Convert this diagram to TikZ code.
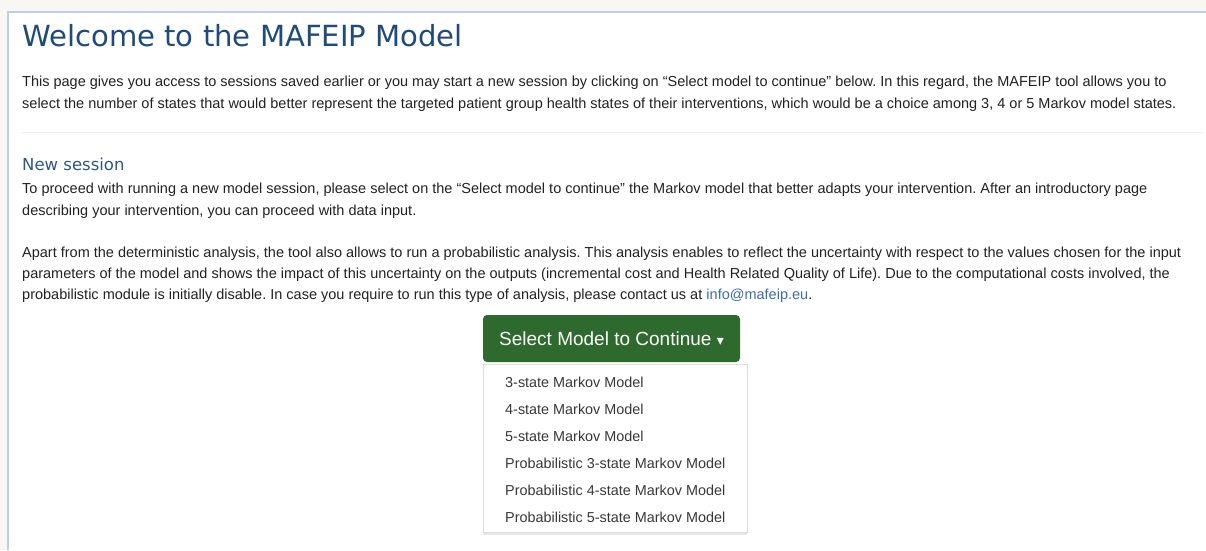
\documentclass[tikz,border=0pt]{standalone}
\usepackage{fontspec}
\setmainfont{Liberation Sans}
\newfontfamily\headfont{DejaVu Sans}
\usetikzlibrary{shadows}
\definecolor{pagebg}{HTML}{F8F7F3}
\definecolor{panelline}{HTML}{BCD0E2}
\definecolor{ruleline}{HTML}{ECECEC}
\definecolor{titleblue}{HTML}{1F4B7C}
\definecolor{headblue}{HTML}{2D5886}
\definecolor{linkblue}{HTML}{3C6CB0}
\definecolor{bodytext}{HTML}{222222}
\definecolor{btngreen}{HTML}{2E6A2E}
\definecolor{menutext}{HTML}{383838}
\definecolor{menuframe}{HTML}{DDDDDD}

\tikzset{
	bodyline/.style={anchor=base west, inner sep=0pt, text=bodytext, font=\fontsize{14.5}{17}\selectfont},
	menuitem/.style={anchor=base west, inner sep=0pt, text=menutext, font=\fontsize{14.4}{17}\selectfont},
}
\frenchspacing

\begin{document}
\begin{tikzpicture}[x=1pt, y=-1pt]
	\useasboundingbox (0,0) rectangle (1206,550);
	\fill[pagebg] (0,0) rectangle (1206,550);
	\fill[white] (8,12) rectangle (1206,550);
	\draw[panelline, line width=1.5pt] (8,550) -- (8,12) -- (1206,12);

	\node[anchor=base west, inner sep=0pt, text=titleblue, font=\headfont\fontsize{29.1}{34}\selectfont] (title) at (22,46) {Welcome to the MAFEIP Model};

	\node[bodyline] (intro1) at (22,86) {This page gives you access to sessions saved earlier or you may start a new session by clicking on “Select model to continue” below. In this regard, the MAFEIP tool allows you to};
	\node[bodyline] (intro2) at (22,108) {select the number of states that would better represent the targeted patient group health states of their interventions, which would be a choice among 3, 4 or 5 Markov model states.};

	\draw[ruleline, line width=1pt] (22,132) -- (1203,132);

	\node[anchor=base west, inner sep=0pt, text=headblue, font=\headfont\fontsize{16.5}{20}\selectfont] (newsession) at (22,170) {New session};

	\node[bodyline] (proceed1) at (22,193) {To proceed with running a new model session, please select on the “Select model to continue” the Markov model that better adapts your intervention. After an introductory page};
	\node[bodyline] (proceed2) at (22,215) {describing your intervention, you can proceed with data input.};

	\node[bodyline] (apart1) at (22,257) {Apart from the deterministic analysis, the tool also allows to run a probabilistic analysis. This analysis enables to reflect the uncertainty with respect to the values chosen for the input};
	\node[bodyline] (apart2) at (22,278) {parameters of the model and shows the impact of this uncertainty on the outputs (incremental cost and Health Related Quality of Life). Due to the computational costs involved, the};
	\node[bodyline] (apart3) at (22,299) {probabilistic module is initially disable. In case you require to run this type of analysis, please contact us at \textcolor{linkblue}{info@mafeip.eu}.};

	% button and its open menu
	\node[fill=btngreen, rounded corners=4pt, minimum width=257pt, minimum height=47pt, text=white, font=\fontsize{19}{22}\selectfont] (select) at (611.5,338.5) {Select Model to Continue {\headfont\fontsize{14}{14}\selectfont ▾}};
	\node[draw=menuframe, fill=white, anchor=north west, minimum width=264pt, minimum height=168pt, inner sep=0pt, drop shadow={shadow xshift=0pt, shadow yshift=-3pt, opacity=0.18}] (menu) at (483,364) {};
	\foreach \lbl [count=\i] in {3-state Markov Model, 4-state Markov Model, 5-state Markov Model, Probabilistic 3-state Markov Model, Probabilistic 4-state Markov Model, Probabilistic 5-state Markov Model}
		\node[menuitem] (item\i) at (505,{360+27*\i}) {\lbl};
\end{tikzpicture}
\end{document}
